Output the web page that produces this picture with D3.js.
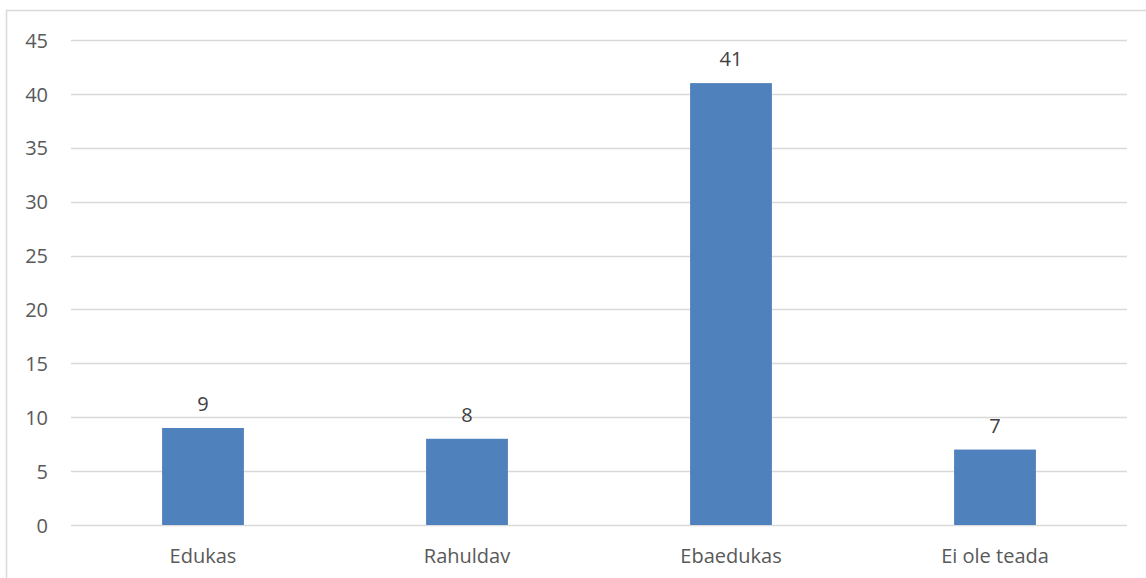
<!DOCTYPE html>
<html><head><meta charset="utf-8">
<script src="https://cdn.jsdelivr.net/npm/d3@7"></script>
<style>body{margin:0;background:#fff}svg{display:block}text{font-family:"Open Sans",sans-serif}</style>
</head><body>
<script>
const categories = ["Edukas", "Rahuldav", "Ebaedukas", "Ei ole teada"];
const values = [9, 8, 41, 7];
const yTicks = [0, 5, 10, 15, 20, 25, 30, 35, 40, 45];

(function () {
const W = 1146, H = 578;
const FONT = "'Open Sans',sans-serif";
const svg = d3.select("body").append("svg").attr("width", W).attr("height", H);

// outer chart border
svg.append("rect").attr("x", 6.5).attr("y", 10.5).attr("width", W + 10).attr("height", H + 10)
  .attr("fill", "none").attr("stroke", "#d9d9d9").attr("stroke-width", 1.5);

const mLeft = 71, mRight = 1127, mTop = 40, mBottom = 525;
const x = d3.scaleBand().domain(categories).range([mLeft, mRight]).paddingInner(0.69).paddingOuter(0.345);
const y = d3.scaleLinear().domain([0, 45]).range([mBottom, mTop]);

// gridlines
svg.append("g").selectAll("line").data(yTicks).join("line")
  .attr("x1", mLeft).attr("x2", mRight)
  .attr("y1", d => Math.round(y(d)) + 0.5).attr("y2", d => Math.round(y(d)) + 0.5)
  .attr("stroke", "#d9d9d9").attr("stroke-width", 1.3);

// y axis labels
const yAxis = d3.axisLeft(y).tickValues(yTicks).tickSize(0).tickPadding(0);
const gy = svg.append("g").attr("transform", `translate(48,0)`).call(yAxis);
gy.select(".domain").remove();
gy.selectAll("text").attr("fill", "#595959").attr("dy", "0.36em").style("font-size", "20px").style("font-family", FONT);

// bars
svg.append("g").selectAll("rect").data(values).join("rect")
  .attr("x", (d, i) => x(categories[i]))
  .attr("width", x.bandwidth())
  .attr("y", d => y(d))
  .attr("height", d => y(0) - y(d))
  .attr("fill", "#4f81bd");

// data labels
svg.append("g").selectAll("text").data(values).join("text")
  .attr("x", (d, i) => x(categories[i]) + x.bandwidth() / 2)
  .attr("y", d => y(d) - 17)
  .attr("text-anchor", "middle")
  .attr("fill", "#404040").style("font-size", "20px").style("font-family", FONT)
  .text(d => d);

// x axis labels
const xAxis = d3.axisBottom(x).tickSize(0).tickPadding(0);
const gx = svg.append("g").attr("transform", `translate(0,${mBottom})`).call(xAxis);
gx.select(".domain").remove();
gx.selectAll("text").attr("fill", "#595959").attr("dy", null).attr("y", 38)
  .style("font-size", "20px").style("font-family", FONT);
})();
</script>
</body></html>
